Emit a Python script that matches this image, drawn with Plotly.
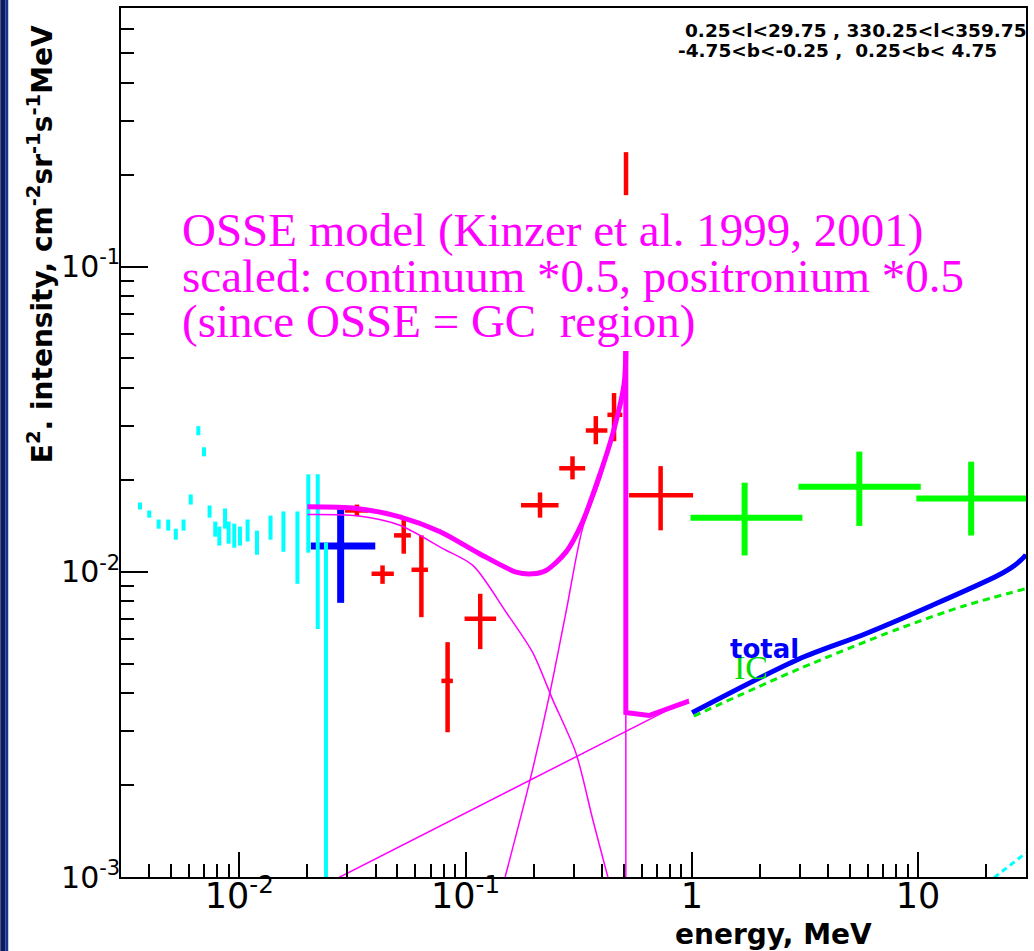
import numpy as np
import plotly.graph_objects as go

# ---------------- data ----------------
# low-energy cyan points: energy [MeV], lower and upper ends of vertical bars
cyan_E = [0.00364, 0.0040, 0.0044, 0.00485, 0.00524, 0.00567, 0.0061, 0.00659,
          0.00698, 0.00739, 0.00783, 0.00816, 0.00865, 0.00897, 0.0095, 0.01007,
          0.01088, 0.01197, 0.01374, 0.01567, 0.01807, 0.02018, 0.02222, 0.02416]
cyan_lo = [0.0160, 0.01504, 0.01384, 0.01364, 0.01274, 0.01364, 0.0166, 0.0280,
           0.02389, 0.01504, 0.01303, 0.01218, 0.01384, 0.01236, 0.01199, 0.01218,
           0.01256, 0.01137, 0.01274, 0.01163, 0.00913, 0.01155, 0.00649, 0.0002]
cyan_hi = [0.01687, 0.01588, 0.01483, 0.01483, 0.01384, 0.01483, 0.01792, 0.0300,
           0.02557, 0.01649, 0.0146, 0.01406, 0.01612, 0.0146, 0.01438, 0.01406,
           0.01483, 0.01364, 0.01528, 0.01576, 0.01576, 0.02085, 0.02085, 0.01246]

# blue cross
blue_E = [0.02805]
blue_Elo = [0.0207]
blue_Ehi = [0.0399]
blue_I = [0.01215]
blue_Ilo = [0.00791]
blue_Ihi = [0.0160]

# red crosses
red_E = [0.0331, 0.04296, 0.0533, 0.0638, 0.0833, 0.1161, 0.2134, 0.2970, 0.3765, 0.4532, 0.512, 0.728]
red_Elo = [0.0293, 0.03842, 0.0483, 0.0577, 0.0782, 0.0990, 0.1759, 0.2595, 0.340, 0.4236, 0.512, 0.528]
red_Ehi = [0.0370, 0.0482, 0.0573, 0.0682, 0.0879, 0.1365, 0.2576, 0.3378, 0.4235, 0.4931, 0.512, 1.013]
red_I = [0.01588, 0.00985, 0.01316, 0.01015, 0.00439, 0.00701, 0.01652, 0.02183, 0.02903, 0.03267, 0.2016, 0.01782]
red_Ilo = [0.0152, 0.00913, 0.01146, 0.0071, 0.00298, 0.00558, 0.01504, 0.02008, 0.02617, 0.02677, 0.1713, 0.01367]
red_Ihi = [0.0166, 0.01049, 0.01494, 0.01316, 0.00588, 0.00847, 0.01819, 0.02389, 0.03236, 0.03851, 0.237, 0.02219]

# green crosses
green_E = [1.712, 5.50, 17.17]
green_Elo = [0.987, 2.961, 9.83]
green_Ehi = [3.083, 10.28, 30.0]
green_I = [0.01502, 0.0190, 0.01738]
green_Ilo = [0.01131, 0.01413, 0.01315]
green_Ihi = [0.01958, 0.02476, 0.02294]

# OSSE model (thick magenta, total)
osse_E = [0.0200, 0.0330, 0.0512, 0.0768, 0.1153, 0.1673, 0.1979, 0.2267, 0.2778,
          0.3287, 0.3894, 0.4456, 0.5017, 0.511, 0.511, 0.6465, 0.766, 0.970]
osse_I = [0.01632, 0.01612, 0.01513, 0.01354, 0.01146, 0.00998, 0.00985, 0.0101, 0.0116,
          0.01456, 0.0205, 0.02805, 0.0410, 0.0529, 0.00346, 0.00338, 0.00354, 0.00377]
# continuum component (thin)
cont_E = [0.0200, 0.0330, 0.0512, 0.0794, 0.1077, 0.1511, 0.1979, 0.2424, 0.3074, 0.3652, 0.4278, 0.46]
cont_I = [0.0154, 0.01525, 0.0142, 0.01191, 0.01049, 0.00737, 0.00544, 0.00382, 0.00255, 0.00154, 0.000985, 0.0008]
# positronium component (thin)
pos_E = [0.1496, 0.1913, 0.2344, 0.2778, 0.3287, 0.3894, 0.4309, 0.4769, 0.511, 0.511]
pos_I = [0.001, 0.00203, 0.00392, 0.00736, 0.01385, 0.0196, 0.0254, 0.0345, 0.048, 0.0005]
# power-law component (thin)
pl_E = [0.025, 0.97]
pl_I = [0.00096, 0.00382]

# model curves above 1 MeV
total_E = [1.003, 2.961, 5.825, 11.44, 22.51, 26.67, 29.82, 30.0]
total_I = [0.003456, 0.005172, 0.006254, 0.007739, 0.00972, 0.01049, 0.01131, 0.01140]
ic_E = [1.0205, 2.961, 8.165, 16.06, 29.82]
ic_I = [0.003365, 0.004797, 0.006494, 0.007739, 0.008793]
pi0_E = [20.0, 30.0]
pi0_I = [0.00095, 0.0012]

# tick label exponents shown as 10^-n with a plain hyphen
tick_exponents = [1, 2, 3]
tick_labels = {"10<sup>\u2212%d</sup>" % n: "10<sup>-%d</sup>" % n for n in tick_exponents}

# ---------------- figure ----------------
MAG = "#ff00ff"


def cross(E, Elo, Ehi, I, Ilo, Ihi, color, thick, xerr=True):
    E = np.array(E, float)
    I = np.array(I, float)
    ey = dict(type="data", symmetric=False, array=np.array(Ihi) - I,
              arrayminus=I - np.array(Ilo), color=color, thickness=thick, width=0)
    tr = dict(x=E, y=I, mode="markers", marker=dict(size=1, color=color, opacity=0),
              error_y=ey, showlegend=False, hoverinfo="skip")
    if xerr:
        tr["error_x"] = dict(type="data", symmetric=False, array=np.array(Ehi) - E,
                             arrayminus=E - np.array(Elo), color=color, thickness=thick, width=0)
    return go.Scatter(**tr)


def curve(x, y, color, width, shape="linear", dash=None):
    ln = dict(color=color, width=width, shape=shape)
    if shape == "spline":
        ln["smoothing"] = 0.8
    if dash:
        ln["dash"] = dash
    return go.Scatter(x=x, y=y, mode="lines", line=ln, showlegend=False, hoverinfo="skip")


fig = go.Figure()

fig.add_trace(cross(blue_E, blue_Elo, blue_Ehi, blue_I, blue_Ilo, blue_Ihi, "#0000ff", 7))

cE = np.array(cyan_E)
clo = np.array(cyan_lo)
chi = np.array(cyan_hi)
cmid = np.sqrt(clo * chi)
fig.add_trace(cross(cE, cE, cE, cmid, clo, chi, "#00ffff", 4, xerr=False))

fig.add_trace(cross(red_E, red_Elo, red_Ehi, red_I, red_Ilo, red_Ihi, "#ff0000", 4.5))

fig.add_trace(curve(cont_E, cont_I, MAG, 1.5, "spline"))
fig.add_trace(curve(pos_E[:9], pos_I[:9], MAG, 1.5, "spline"))
fig.add_trace(curve(pos_E[8:], pos_I[8:], MAG, 1.5))
fig.add_trace(curve(pl_E, pl_I, MAG, 1.5))
fig.add_trace(curve(osse_E[:14], osse_I[:14], MAG, 5, "spline"))
fig.add_trace(curve(osse_E[13:], osse_I[13:], MAG, 5))

fig.add_trace(cross(green_E, green_Elo, green_Ehi, green_I, green_Ilo, green_Ihi, "#00ff00", 6))

fig.add_trace(curve(ic_E, ic_I, "#00ee00", 3, "spline", dash="7px,5px"))
fig.add_trace(curve(total_E, total_I, "#0000ff", 5, "spline"))
fig.add_trace(curve(pi0_E, pi0_I, "#00ffff", 3, dash="6px,4px"))

# plot area in pixels: left 121, right 1028, top 8, bottom 877
PL, PR, PT, PB = 121, 1028, 8, 877


def px(x):
    return (x - PL) / (PR - PL)


def py(y):
    return (PB - y) / (PB - PT)


axis_common = dict(type="log", showgrid=False, zeroline=False, showline=True, linecolor="black",
                   linewidth=2, mirror=True, ticks="inside", tickwidth=1.5, tickcolor="black",
                   dtick=1, exponentformat="power", labelalias=tick_labels,
                   minor=dict(ticks="inside", ticklen=13, tickwidth=1.5, tickcolor="black",
                              dtick="D1", showgrid=False))

fig.update_layout(
    width=1034, height=951,
    margin=dict(l=PL, r=1034 - PR, t=PT, b=951 - PB),
    paper_bgcolor="white", plot_bgcolor="white", showlegend=False,
    xaxis=dict(range=[np.log10(0.003), np.log10(30)], ticklen=25, ticklabelstandoff=-12,
               tickfont=dict(family="DejaVu Sans", size=28, color="black"), **axis_common),
    yaxis=dict(range=[-3, -0.153], ticklen=27, ticklabelstandoff=-6,
               tickfont=dict(family="DejaVu Sans", size=24, color="black"), **axis_common),
)

ann = []
osse_lines = ["OSSE model (Kinzer et al. 1999, 2001)",
              "scaled: continuum *0.5, positronium *0.5",
              "(since OSSE = GC\u00a0 region)"]
for i, t in enumerate(osse_lines):
    base = [245, 290.5, 336.5][i]
    ann.append(dict(text=t, x=px(181), y=py(base - 42), xref="paper", yref="paper",
                    xanchor="left", yanchor="top", showarrow=False, borderpad=0,
                    font=dict(family="Liberation Serif", size=47, color=MAG)))

ann.append(dict(text="0.25<l<29.75 , 330.25<l<359.75", x=px(685), y=py(19), xref="paper",
                yref="paper", xanchor="left", yanchor="top", showarrow=False, borderpad=0,
                font=dict(family="DejaVu Sans", size=18.5, color="black", weight="bold")))
ann.append(dict(text="-4.75<b<-0.25 ,\u00a0 0.25<b< 4.75", x=px(678), y=py(39),
                xref="paper", yref="paper", xanchor="left", yanchor="top", showarrow=False,
                borderpad=0, font=dict(family="DejaVu Sans", size=18.5, color="black", weight="bold")))

ann.append(dict(text="IC", x=px(734), y=py(648), xref="paper", yref="paper", xanchor="left",
                yanchor="top", showarrow=False, borderpad=0,
                font=dict(family="Liberation Serif", size=34, color="#00dd00")))
ann.append(dict(text="total", x=px(730), y=py(633), xref="paper", yref="paper", xanchor="left",
                yanchor="top", showarrow=False, borderpad=0,
                font=dict(family="DejaVu Sans", size=26, color="#0000ff", weight="bold")))

ann.append(dict(text="E<sup>2</sup>. intensity, cm<sup>-2</sup>sr<sup>-1</sup>s<sup>-1</sup>MeV",
                textangle=-90, x=px(40), y=py(24), xref="paper", yref="paper",
                xanchor="center", yanchor="top", showarrow=False, borderpad=0,
                font=dict(family="DejaVu Sans", size=28, color="black", weight="bold")))
ann.append(dict(text="energy, MeV", x=px(675), y=py(917), xref="paper", yref="paper",
                xanchor="left", yanchor="top", showarrow=False, borderpad=0,
                font=dict(family="DejaVu Sans", size=28, color="black", weight="bold")))

fig.update_layout(annotations=ann)

# dark slide strip on the far left
shapes = [
    dict(type="rect", xref="paper", yref="paper", x0=px(0), x1=px(5), y0=py(951), y1=py(0),
         fillcolor="#0b1b5e", line=dict(width=0), layer="below"),
    dict(type="rect", xref="paper", yref="paper", x0=px(5), x1=px(8), y0=py(951), y1=py(0),
         fillcolor="#17348c", line=dict(width=0), layer="below"),
]
fig.update_layout(shapes=shapes)

fig.write_html("out.html", config={"displayModeBar": False},
               post_script="document.body.style.margin='0';")
